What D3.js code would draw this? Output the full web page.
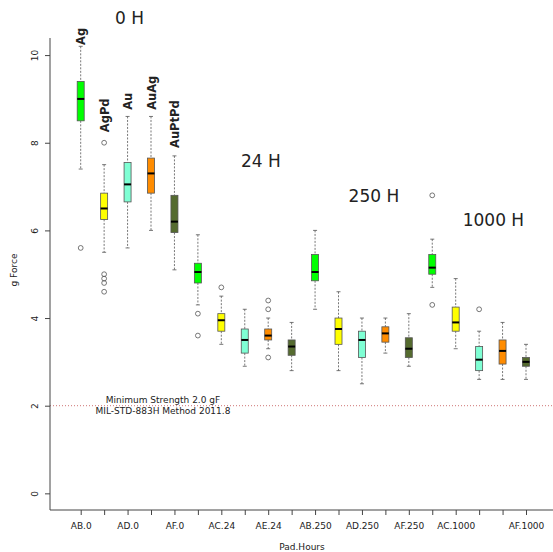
<!DOCTYPE html>
<html>
<head>
<meta charset="utf-8">
<script src="https://cdn.jsdelivr.net/npm/d3@7"></script>
<style>
  body { margin: 0; background: #fff; }
  text { font-family: "DejaVu Sans", sans-serif; fill: #222; }
</style>
</head>
<body>
<div id="chart-area"></div>
<script>
const W = 553, H = 552

// categories
const pads = ["AB", "AC", "AD", "AE", "AF"]
const hours = [0, 24, 250, 1000]
const materials = ["Ag", "AgPd", "Au", "AuAg", "AuPtPd"]
const colors = ["#00ff00", "#ffff00", "#7fffd4", "#ff8c00", "#556b2f"]
const hourLabels = ["0 H", "24 H", "250 H", "1000 H"]
const hourLabelIdx = [2.08, 7.69, 12.51, 17.61]
const hourLabelY = [10.7, 7.44, 6.65, 6.1]
const materialLabelY = [10.23, 8.24, 8.75, 8.75, 7.88]
const shownTicks = [0, 2, 4, 6, 8, 10, 12, 14, 16, 19]
const yTicks = [0, 2, 4, 6, 8, 10]

// box stats, order: hour by hour, material within hour
const lowW   = [7.4, 5.5, 5.6, 6.0, 5.1,   4.3, 3.4, 2.9, 3.3, 2.8,   4.2, 2.8, 2.5, 3.2, 2.9,   4.7, 3.3, 2.6, 2.6, 2.6]
const q1     = [8.5, 6.25, 6.65, 6.85, 5.95, 4.8, 3.7, 3.2, 3.5, 3.15, 4.85, 3.4, 3.1, 3.45, 3.1, 5.0, 3.7, 2.8, 2.95, 2.9]
const median = [9.0, 6.5, 7.05, 7.3, 6.2,  5.05, 3.95, 3.5, 3.6, 3.35, 5.05, 3.75, 3.5, 3.65, 3.3, 5.15, 3.9, 3.05, 3.25, 3.0]
const q3     = [9.4, 6.85, 7.55, 7.65, 6.8, 5.25, 4.1, 3.75, 3.75, 3.5, 5.45, 4.0, 3.7, 3.8, 3.55, 5.45, 4.25, 3.35, 3.5, 3.1]
const highW  = [10.2, 7.5, 8.6, 8.6, 7.7, 5.9, 4.5, 4.2, 4.0, 3.9,  6.0, 4.6, 4.0, 4.0, 4.1,   5.8, 4.9, 3.7, 3.9, 3.4]
const outliers = [
  [5.6], [8.0, 5.0, 4.9, 4.8, 4.6], [], [], [],
  [4.1, 3.6], [4.7], [], [4.4, 4.2, 3.1], [],
  [], [], [], [], [],
  [6.8, 4.3], [], [4.2], [], []
]

const keys = []
hours.forEach(h => pads.forEach(p => keys.push(p + "." + h)))
const boxes = keys.map((k, i) => ({
  key: k, i, mat: i % 5,
  lo: lowW[i], q1: q1[i], med: median[i], q3: q3[i], hi: highW[i], out: outliers[i]
}))

const svg = d3.select("#chart-area").append("svg")
  .attr("width", W)
  .attr("height", H)

const x = d3.scalePoint().domain(keys).range([80.7, 526])
const xi = d3.scaleLinear().domain([0, keys.length - 1]).range([80.7, 526])
const y = d3.scaleLinear().domain([-0.38, 10.39]).range([510, 38])

const LEFT = 50, BOTTOM = 510
const BW = 7

// reference line at 2 gF
svg.append("line")
  .attr("x1", LEFT).attr("x2", W)
  .attr("y1", y(2)).attr("y2", y(2))
  .attr("stroke", "#c86464").attr("stroke-width", 0.9)
  .attr("stroke-dasharray", "1,2")

svg.append("text")
  .attr("x", 163).attr("y", y(2) - 3)
  .attr("text-anchor", "middle").attr("font-size", "9px")
  .text("Minimum Strength 2.0 gF")
svg.append("text")
  .attr("x", 163).attr("y", y(2) + 8)
  .attr("text-anchor", "middle").attr("font-size", "9px")
  .text("MIL-STD-883H Method 2011.8")

// frame (left + bottom)
svg.append("path")
  .attr("d", `M${LEFT},38V${BOTTOM}H${W}`)
  .attr("fill", "none").attr("stroke", "#444").attr("stroke-width", 1)

// Y axis
const yAxis = svg.append("g")
  .attr("transform", `translate(${LEFT},0)`)
  .call(d3.axisLeft(y).tickValues(yTicks).tickSize(5).tickFormat(d3.format("d")))
yAxis.select(".domain").remove()
yAxis.selectAll("line").attr("stroke", "#444")
yAxis.selectAll("text")
  .attr("transform", "rotate(-90)")
  .attr("x", 0).attr("y", -12).attr("dy", 0)
  .attr("text-anchor", "middle")
  .attr("font-size", "9px").attr("font-family", "DejaVu Sans").attr("fill", "#222")

// X axis
const xAxis = svg.append("g")
  .attr("transform", `translate(0,${BOTTOM})`)
  .call(d3.axisBottom(x).tickSize(5)
    .tickFormat((d, i) => shownTicks.includes(i) ? d : ""))
xAxis.select(".domain").remove()
xAxis.selectAll("line").attr("stroke", "#444")
xAxis.selectAll("text")
  .attr("y", 13)
  .attr("font-size", "9px").attr("font-family", "DejaVu Sans").attr("fill", "#222")

// axis titles
svg.append("text")
  .attr("x", 302).attr("y", 550)
  .attr("text-anchor", "middle").attr("font-size", "9px")
  .text("Pad.Hours")
svg.append("text")
  .attr("transform", "rotate(-90)")
  .attr("x", -270).attr("y", 17)
  .attr("text-anchor", "middle").attr("font-size", "9px")
  .text("g Force")

// boxes
const g = svg.selectAll("g.box").data(boxes).enter().append("g").attr("class", "box")

g.append("line")
  .attr("x1", d => x(d.key)).attr("x2", d => x(d.key))
  .attr("y1", d => y(d.hi)).attr("y2", d => y(d.q3))
  .attr("stroke", "#555").attr("stroke-width", 0.8).attr("stroke-dasharray", "2,1.5")
g.append("line")
  .attr("x1", d => x(d.key)).attr("x2", d => x(d.key))
  .attr("y1", d => y(d.q1)).attr("y2", d => y(d.lo))
  .attr("stroke", "#555").attr("stroke-width", 0.8).attr("stroke-dasharray", "2,1.5")
g.append("line")
  .attr("x1", d => x(d.key) - 2).attr("x2", d => x(d.key) + 2)
  .attr("y1", d => y(d.hi)).attr("y2", d => y(d.hi))
  .attr("stroke", "#555").attr("stroke-width", 0.8)
g.append("line")
  .attr("x1", d => x(d.key) - 2).attr("x2", d => x(d.key) + 2)
  .attr("y1", d => y(d.lo)).attr("y2", d => y(d.lo))
  .attr("stroke", "#555").attr("stroke-width", 0.8)

g.append("rect")
  .attr("x", d => x(d.key) - BW / 2)
  .attr("width", BW)
  .attr("y", d => y(d.q3))
  .attr("height", d => y(d.q1) - y(d.q3))
  .attr("fill", d => colors[d.mat])
  .attr("stroke", "#555").attr("stroke-width", 0.8)

g.append("line")
  .attr("x1", d => x(d.key) - BW / 2).attr("x2", d => x(d.key) + BW / 2)
  .attr("y1", d => y(d.med)).attr("y2", d => y(d.med))
  .attr("stroke", "#000").attr("stroke-width", 2)

g.selectAll("circle").data(d => d.out.map(v => ({ key: d.key, v })))
  .enter().append("circle")
  .attr("cx", d => x(d.key)).attr("cy", d => y(d.v))
  .attr("r", 2.4)
  .attr("fill", "none").attr("stroke", "#555").attr("stroke-width", 0.8)

// material labels over the 0 H group
svg.selectAll("text.mat").data(materials).enter().append("text")
  .attr("class", "mat")
  .attr("transform", (d, i) => `translate(${x(keys[i]) + 4.5},${y(materialLabelY[i])}) rotate(-90)`)
  .attr("font-size", "11.5px").attr("font-weight", "bold")
  .text(d => d)

// hour labels
svg.selectAll("text.hour").data(hourLabels).enter().append("text")
  .attr("class", "hour")
  .attr("x", (d, i) => xi(hourLabelIdx[i]))
  .attr("y", (d, i) => y(hourLabelY[i]))
  .attr("text-anchor", "middle").attr("font-size", "17px")
  .text(d => d)
</script>
</body>
</html>
